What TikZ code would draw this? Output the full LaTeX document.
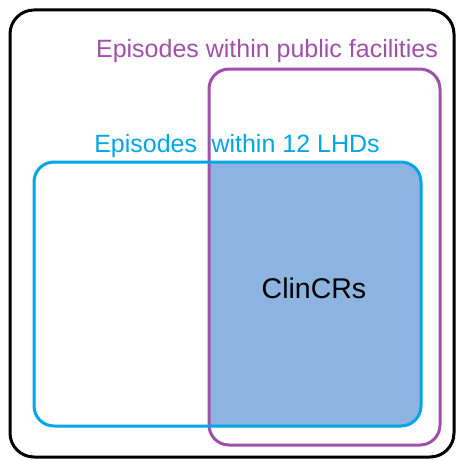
\documentclass[tikz,border=0pt]{standalone}
\usepackage{fontspec}
\setmainfont{Liberation Sans}
\usepackage{xcolor}
\usetikzlibrary{positioning, calc}

\definecolor{setpurple}{RGB}{160,80,168}
\definecolor{setblue}{RGB}{0,166,230}
\definecolor{setfill}{RGB}{141,179,225}

\begin{document}
\begin{tikzpicture}[
    x=1pt, y=-1pt,
    frame/.style={draw=black, line width=3pt, rounded corners=24pt},
    public/.style={draw=setpurple, line width=3pt, rounded corners=20pt},
    lhd/.style={draw=setblue, line width=3pt, rounded corners=20pt},
    label/.style={inner sep=0pt, anchor=base, font=\fontsize{25}{29}\selectfont},
    core/.style={inner sep=0pt, font=\fontsize{28.5}{32}\selectfont, text=black}
]
    \useasboundingbox (0,0) rectangle (457,460);

    % Outer frame
    \draw[frame] (10,10) rectangle (454,457);

    % Overlap of both sets
    \begin{scope}
        \clip (209,69) rectangle (440,445);
        \fill[setfill, rounded corners=20pt] (34,162) rectangle (421,426);
    \end{scope}

    % Sets
    \draw[public] (209,69) rectangle (440,445);
    \draw[lhd] (34,162) rectangle (421,426);

    % Labels
    \node[label, text=setpurple] (pubtxt) at (267,58) {Episodes within public facilities};
    \node[label, text=setblue] (lhdtxt) at (237,152) {Episodes\hspace{0.3em} within 12 LHDs};
    \node[core] (clin) at (314,288) {ClinCRs};

\end{tikzpicture}
\end{document}
